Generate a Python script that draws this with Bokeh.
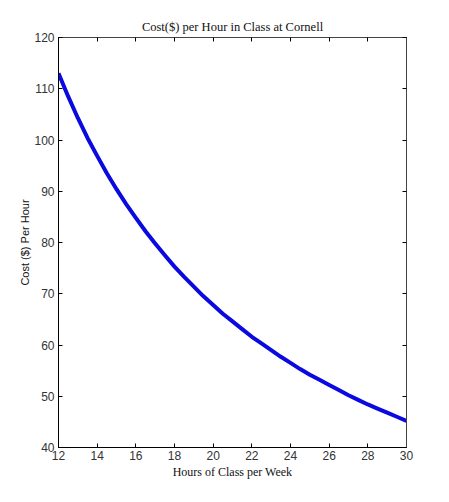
from bokeh.plotting import figure
from bokeh.models import LinearAxis, FixedTicker, Range1d
from bokeh.embed import file_html
from bokeh.resources import INLINE

hours = [12, 12.5, 13, 13.5, 14, 14.5, 15, 15.5, 16, 16.5, 17, 17.5, 18, 18.5,
         19, 19.5, 20, 20.5, 21, 21.5, 22, 22.5, 23, 23.5, 24, 24.5, 25, 25.5,
         26, 26.5, 27, 27.5, 28, 28.5, 29, 29.5, 30]
cost = [113.0, 108.5, 104.3, 100.4, 96.9, 93.5, 90.4, 87.5, 84.8, 82.2, 79.8,
        77.5, 75.3, 73.3, 71.4, 69.5, 67.8, 66.1, 64.6, 63.1, 61.6, 60.3, 59.0,
        57.7, 56.5, 55.3, 54.2, 53.2, 52.2, 51.2, 50.2, 49.3, 48.4, 47.6, 46.8,
        46.0, 45.2]
x_ticks = [12, 14, 16, 18, 20, 22, 24, 26, 28, 30]
y_ticks = [40, 50, 60, 70, 80, 90, 100, 110, 120]

p = figure(width=441, height=494, output_backend="svg", toolbar_location=None,
           x_range=Range1d(12, 30), y_range=Range1d(40, 120),
           frame_width=348, frame_height=410,
           min_border_left=58, min_border_top=37, min_border_right=35, min_border_bottom=47,
           title="Cost($) per Hour in Class at Cornell")
p.title.align = "center"
p.title.text_font = "Liberation Serif"
p.title.text_font_style = "normal"
p.title.text_font_size = "12.5px"
p.title.text_color = "#111111"
p.title.standoff = 8

p.grid.visible = False
p.outline_line_color = "#333333"
p.outline_line_width = 1
p.background_fill_color = "white"
p.border_fill_color = "white"

p.line(hours, cost, line_color="#0a0ae0", line_width=4, line_join="round")

for ax in [p.xaxis[0], p.yaxis[0]]:
    ax.major_tick_in = 4
    ax.major_tick_out = 0
    ax.minor_tick_in = 0
    ax.minor_tick_out = 0
    ax.axis_line_color = "black"
    ax.major_tick_line_color = "black"
    ax.major_label_text_font = "Liberation Sans"
    ax.major_label_text_font_size = "12px"
    ax.major_label_text_color = "#333333"
    ax.axis_label_text_font_style = "normal"
    ax.axis_label_text_color = "#111111"

p.xaxis[0].ticker = FixedTicker(ticks=x_ticks)
p.yaxis[0].ticker = FixedTicker(ticks=y_ticks)
p.xaxis[0].axis_label = "Hours of Class per Week"
p.xaxis[0].axis_label_text_font = "Liberation Serif"
p.xaxis[0].axis_label_text_font_size = "12px"
p.xaxis[0].major_label_standoff = 3
p.xaxis[0].axis_label_standoff = 2
p.yaxis[0].axis_label = "Cost ($) Per Hour"
p.yaxis[0].axis_label_text_font = "Liberation Sans"
p.yaxis[0].axis_label_text_font_size = "11px"
p.yaxis[0].major_label_standoff = 4
p.yaxis[0].axis_label_standoff = 0

top = LinearAxis(ticker=FixedTicker(ticks=x_ticks))
right = LinearAxis(ticker=FixedTicker(ticks=y_ticks))
for ax in [top, right]:
    ax.major_tick_in = 4
    ax.major_tick_out = 0
    ax.minor_tick_in = 0
    ax.minor_tick_out = 0
    ax.major_label_text_font_size = "0px"
    ax.major_label_text_color = None
    ax.major_label_standoff = 0
    ax.axis_line_color = "#444444"
    ax.major_tick_line_color = "black"
p.add_layout(top, "above")
p.add_layout(right, "right")

open("out.html", "w").write(file_html(p, INLINE))
